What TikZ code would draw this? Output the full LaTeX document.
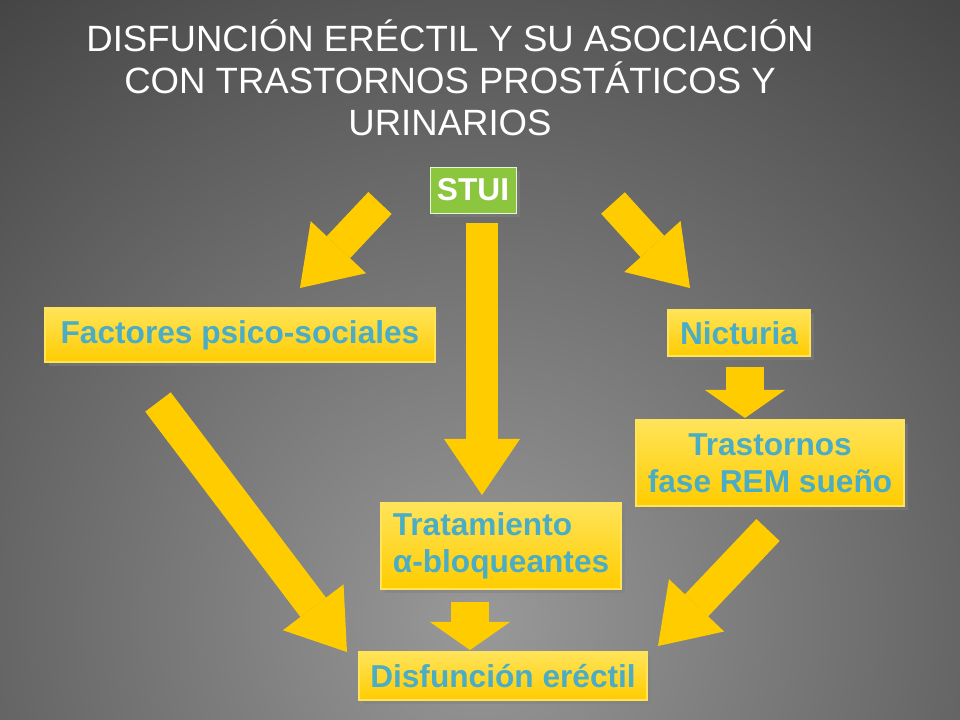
\documentclass[tikz,border=0pt]{standalone}
\usepackage{fontspec}
\setmainfont{Liberation Sans}
\usetikzlibrary{arrows.meta,positioning,shadows}
\definecolor{boxyellow}{RGB}{255,204,0}
\definecolor{boxtop}{RGB}{255,228,90}
\definecolor{arrowyellow}{RGB}{255,204,0}
\definecolor{textblue}{RGB}{75,172,198}
\definecolor{stuigreen}{RGB}{140,198,63}
\begin{document}
\begin{tikzpicture}[
        x=0.025cm, y=-0.025cm,
        every node/.style={font=\fontsize{22.5}{26}\selectfont\bfseries},
        yellowbox/.style={rectangle, draw=boxtop, line width=1pt, top color=boxtop, bottom color=boxyellow, text=textblue, inner sep=3pt, drop shadow={opacity=0.5}},
        blockarrow/.style={draw=arrowyellow, line width=0.8cm, -{Triangle[width=1.9cm,length=1.4cm,line width=0pt]}},
        smallarrow/.style={draw=arrowyellow, line width=0.95cm, -{Triangle[width=2cm,length=0.7cm,line width=0pt]}}
    ]
        % background
        \useasboundingbox (0,0) rectangle (960,720);
        \begin{scope}
            \clip (0,0) rectangle (960,720);
            \shade[inner color=black!40, outer color=black!82] (480,620) circle (1000);
        \end{scope}
        % title
        \node[align=center, text=white, font=\fontsize{26}{30}\selectfont] (title) at (450,78)
            {DISFUNCIÓN ERÉCTIL Y SU ASOCIACIÓN\\CON TRASTORNOS PROSTÁTICOS Y\\URINARIOS};
        % boxes
        \node[rectangle, fill=stuigreen, draw=white!80!stuigreen, text=white, minimum height=1.15cm, inner xsep=5pt, drop shadow={opacity=0.5}] (stui) at (473,190) {STUI};
        \node[yellowbox, minimum width=9.75cm, minimum height=1.35cm] (psico) at (240,335) {Factores psico-sociales};
        \node[yellowbox, minimum width=3.55cm, minimum height=1.15cm] (nicturia) at (739,333) {Nicturia};
        \node[yellowbox, align=center, minimum width=6.7cm, minimum height=2.15cm] (rem) at (770,463) {Trastornos\\fase REM sueño};
        \node[yellowbox, align=left, minimum width=6cm, minimum height=2.15cm] (alfa) at (501,546) {Tratamiento\\α-bloqueantes};
        \node[yellowbox, minimum width=7.2cm, minimum height=1.2cm] (disf) at (503,676) {Disfunción eréctil};
        % arrow ends
        \coordinate (a1s) at (380,203); \coordinate (a1e) at (300,288);
        \coordinate (a2s) at (482,223); \coordinate (a2e) at (482,495);
        \coordinate (a3s) at (613,203); \coordinate (a3e) at (690,288);
        \coordinate (a5s) at (158,402); \coordinate (a5e) at (347,652);
        \coordinate (a6s) at (768,530); \coordinate (a6e) at (658,646);
        % arrows
        \draw[blockarrow] (a1s) -- (a1e);
        \draw[blockarrow] (a2s) -- (a2e);
        \draw[blockarrow] (a3s) -- (a3e);
        \draw[blockarrow] (a5s) -- (a5e);
        \draw[blockarrow] (a6s) -- (a6e);
        \draw[smallarrow] (nicturia.south -| 745,0) ++(0,10) -- (745,418);
        \draw[smallarrow] (470,602) -- (470,650);
    \end{tikzpicture}
\end{document}
